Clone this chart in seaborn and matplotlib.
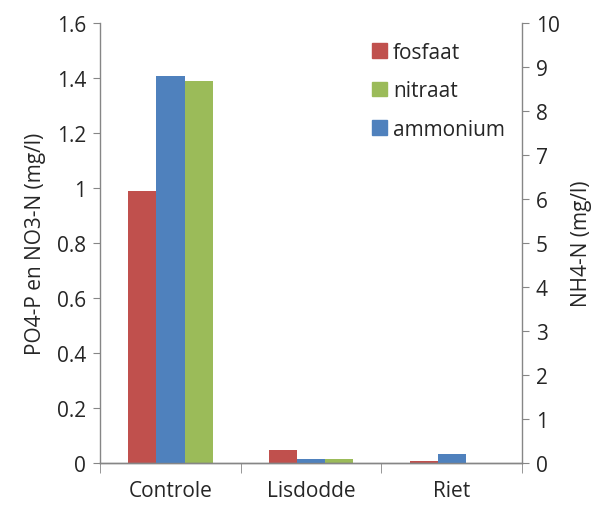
import pandas as pd
import numpy as np
import seaborn as sns
import matplotlib.pyplot as plt
from matplotlib.patches import Patch

locaties = ['Controle', 'Lisdodde', 'Riet']
fosfaat = [0.99, 0.047, 0.006]
nitraat = [1.387, 0.015, 0.0]
ammonium = [8.79, 0.10, 0.20]

kleuren = {'fosfaat': '#C0504D', 'ammonium': '#4F81BD', 'nitraat': '#9BBB59'}
volgorde = ['fosfaat', 'ammonium', 'nitraat']
leeg = [0.0, 0.0, 0.0]

# linker as: fosfaat en nitraat, rechter as: ammonium (lege plekken = 0)
df_links = pd.DataFrame({'locatie': locaties * 3,
                         'stof': ['fosfaat'] * 3 + ['ammonium'] * 3 + ['nitraat'] * 3,
                         'waarde': fosfaat + leeg + nitraat})
df_rechts = pd.DataFrame({'locatie': locaties * 3,
                          'stof': ['fosfaat'] * 3 + ['ammonium'] * 3 + ['nitraat'] * 3,
                          'waarde': leeg + ammonium + leeg})

sns.set_style('white')
plt.rcParams['font.family'] = ['Open Sans', 'DejaVu Sans']
plt.rcParams['font.size'] = 14

fig = plt.figure(figsize=(5.96, 5.06), dpi=100)
ax = fig.add_axes([0.168, 0.083, 0.708, 0.87])
sns.barplot(data=df_links, x='locatie', y='waarde', hue='stof', hue_order=volgorde,
            order=locaties, palette=kleuren, width=0.6, dodge=True, ax=ax, legend=False,
            saturation=1, errorbar=None, linewidth=0)
ax2 = ax.twinx()
sns.barplot(data=df_rechts, x='locatie', y='waarde', hue='stof', hue_order=volgorde,
            order=locaties, palette=kleuren, width=0.6, dodge=True, ax=ax2, legend=False,
            saturation=1, errorbar=None, linewidth=0)

ax.set_ylim(0, 1.6)
ax.set_yticks(np.arange(0, 1.61, 0.2))
ax.set_yticklabels(['0', '0.2', '0.4', '0.6', '0.8', '1', '1.2', '1.4', '1.6'])
ax2.set_ylim(0, 10)
ax2.set_yticks(range(0, 11))
ax.set_xlim(-0.5, 2.5)

ax.set_xlabel('')
ax2.set_xlabel('')
ax.set_ylabel('PO4-P en NO3-N (mg/l)', fontsize=15, labelpad=8)
ax2.set_ylabel('NH4-N (mg/l)', fontsize=15, rotation=90, labelpad=8)

for a in (ax, ax2):
    a.spines['top'].set_visible(False)
    for s in a.spines.values():
        s.set_color('#868686')
        s.set_linewidth(1)
ax.spines['right'].set_visible(False)
ax2.spines['left'].set_visible(False)

ax.tick_params(axis='y', left=True, length=5, color='#868686', labelsize=15, pad=5)
ax2.tick_params(axis='y', right=True, length=5, color='#868686', labelsize=15, pad=5)
ax.set_xticks([-0.5, 0.5, 1.5, 2.5], minor=True)
ax.tick_params(axis='x', which='major', length=0, labelsize=15, pad=12)
ax.tick_params(axis='x', which='minor', bottom=True, length=7, color='#868686')

handles = [Patch(color=kleuren[k], label=k) for k in ['fosfaat', 'nitraat', 'ammonium']]
ax.legend(handles=handles, loc='upper left', bbox_to_anchor=(0.6, 1.0), frameon=False,
          fontsize=15, handlelength=0.7, handleheight=0.7, labelspacing=0.85,
          handletextpad=0.3)

fig.savefig('out.png', dpi=100)
